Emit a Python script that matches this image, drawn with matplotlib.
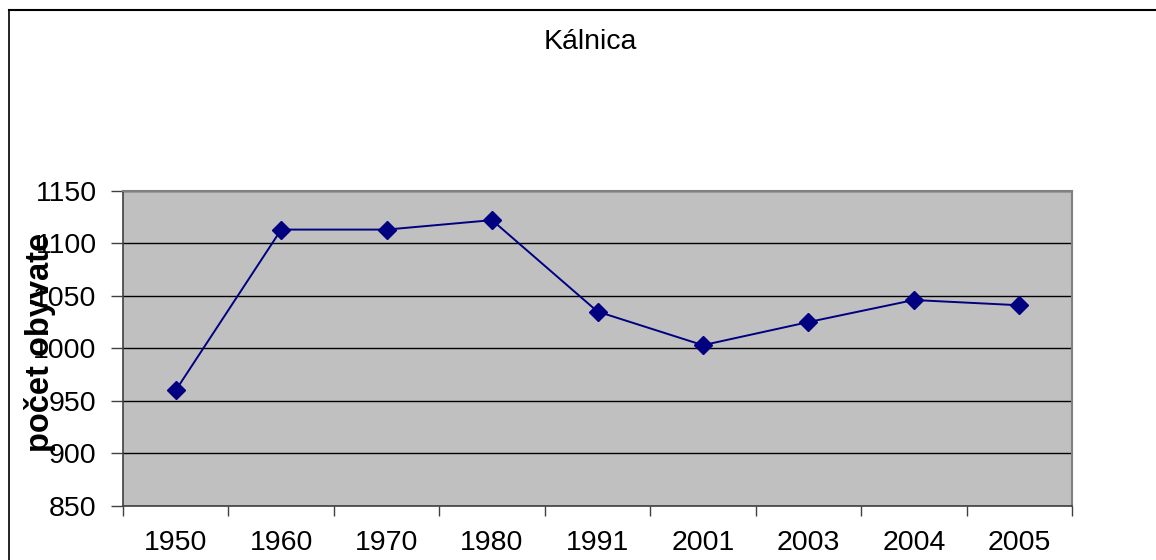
import matplotlib
matplotlib.use("Agg")
import matplotlib.pyplot as plt
from matplotlib.lines import Line2D

plt.rcParams['font.family'] = ['Liberation Sans', 'DejaVu Sans']

years = ["1950", "1960", "1970", "1980", "1991", "2001", "2003", "2004", "2005"]
population = [960, 1113, 1113, 1122, 1035, 1003, 1025, 1046, 1041]
y_ticks = [850, 900, 950, 1000, 1050, 1100, 1150]
title = "Kálnica"
y_label = "počet obyvate"

W, H = 1156, 560
fig = plt.figure(figsize=(W / 100, H / 100), dpi=100)
fig.patch.set_facecolor("white")

# outer chart border (top and left edges visible)
fig.add_artist(Line2D([9 / W, 1.0], [1 - 10 / H, 1 - 10 / H], transform=fig.transFigure,
                      color="black", lw=1.5))
fig.add_artist(Line2D([9 / W, 9 / W], [0.0, 1 - 10 / H], transform=fig.transFigure,
                      color="black", lw=1.2))

left, right, top, bottom = 123, 1072, 190.7, 506
ax = fig.add_axes([left / W, 1 - bottom / H, (right - left) / W, (bottom - top) / H])
ax.set_facecolor("#C0C0C0")

x = list(range(len(years)))
ax.plot(x, population, color="#000080", lw=1.4, marker="D", markersize=9.5,
        markerfacecolor="#000080", markeredgecolor="#000080", zorder=3)

ax.set_xlim(-0.5, len(years) - 0.5)
ax.set_ylim(y_ticks[0], y_ticks[-1])
ax.set_yticks(y_ticks)
ax.set_yticklabels([str(v) for v in y_ticks])
ax.yaxis.grid(True, color="black", lw=1.0)
ax.set_axisbelow(True)

# category ticks between categories, labels centred
ax.set_xticks([i - 0.5 for i in range(len(years) + 1)])
ax.set_xticklabels([])
ax.set_xticks(x, minor=True)
ax.set_xticklabels(years, minor=True)
ax.tick_params(axis="x", which="major", direction="out", length=7, width=1, color="#404040")
ax.tick_params(axis="x", which="minor", length=0, pad=17, labelsize=20.5)
ax.tick_params(axis="y", direction="out", length=9, width=1, color="#404040", pad=10,
               labelsize=20.5)

for s in ["top", "right"]:
    ax.spines[s].set_color("#808080")
    ax.spines[s].set_linewidth(1.5)
for s in ["left", "bottom"]:
    ax.spines[s].set_color("#404040")
    ax.spines[s].set_linewidth(1.2)

fig.text(590 / W, 1 - 42 / H, title, ha="center", va="center", fontsize=20.5)
fig.text(40 / W, 1 - 342 / H, y_label, ha="center", va="center", rotation=90,
         fontsize=23.5, fontweight="bold")

fig.savefig("out.png", dpi=100)
